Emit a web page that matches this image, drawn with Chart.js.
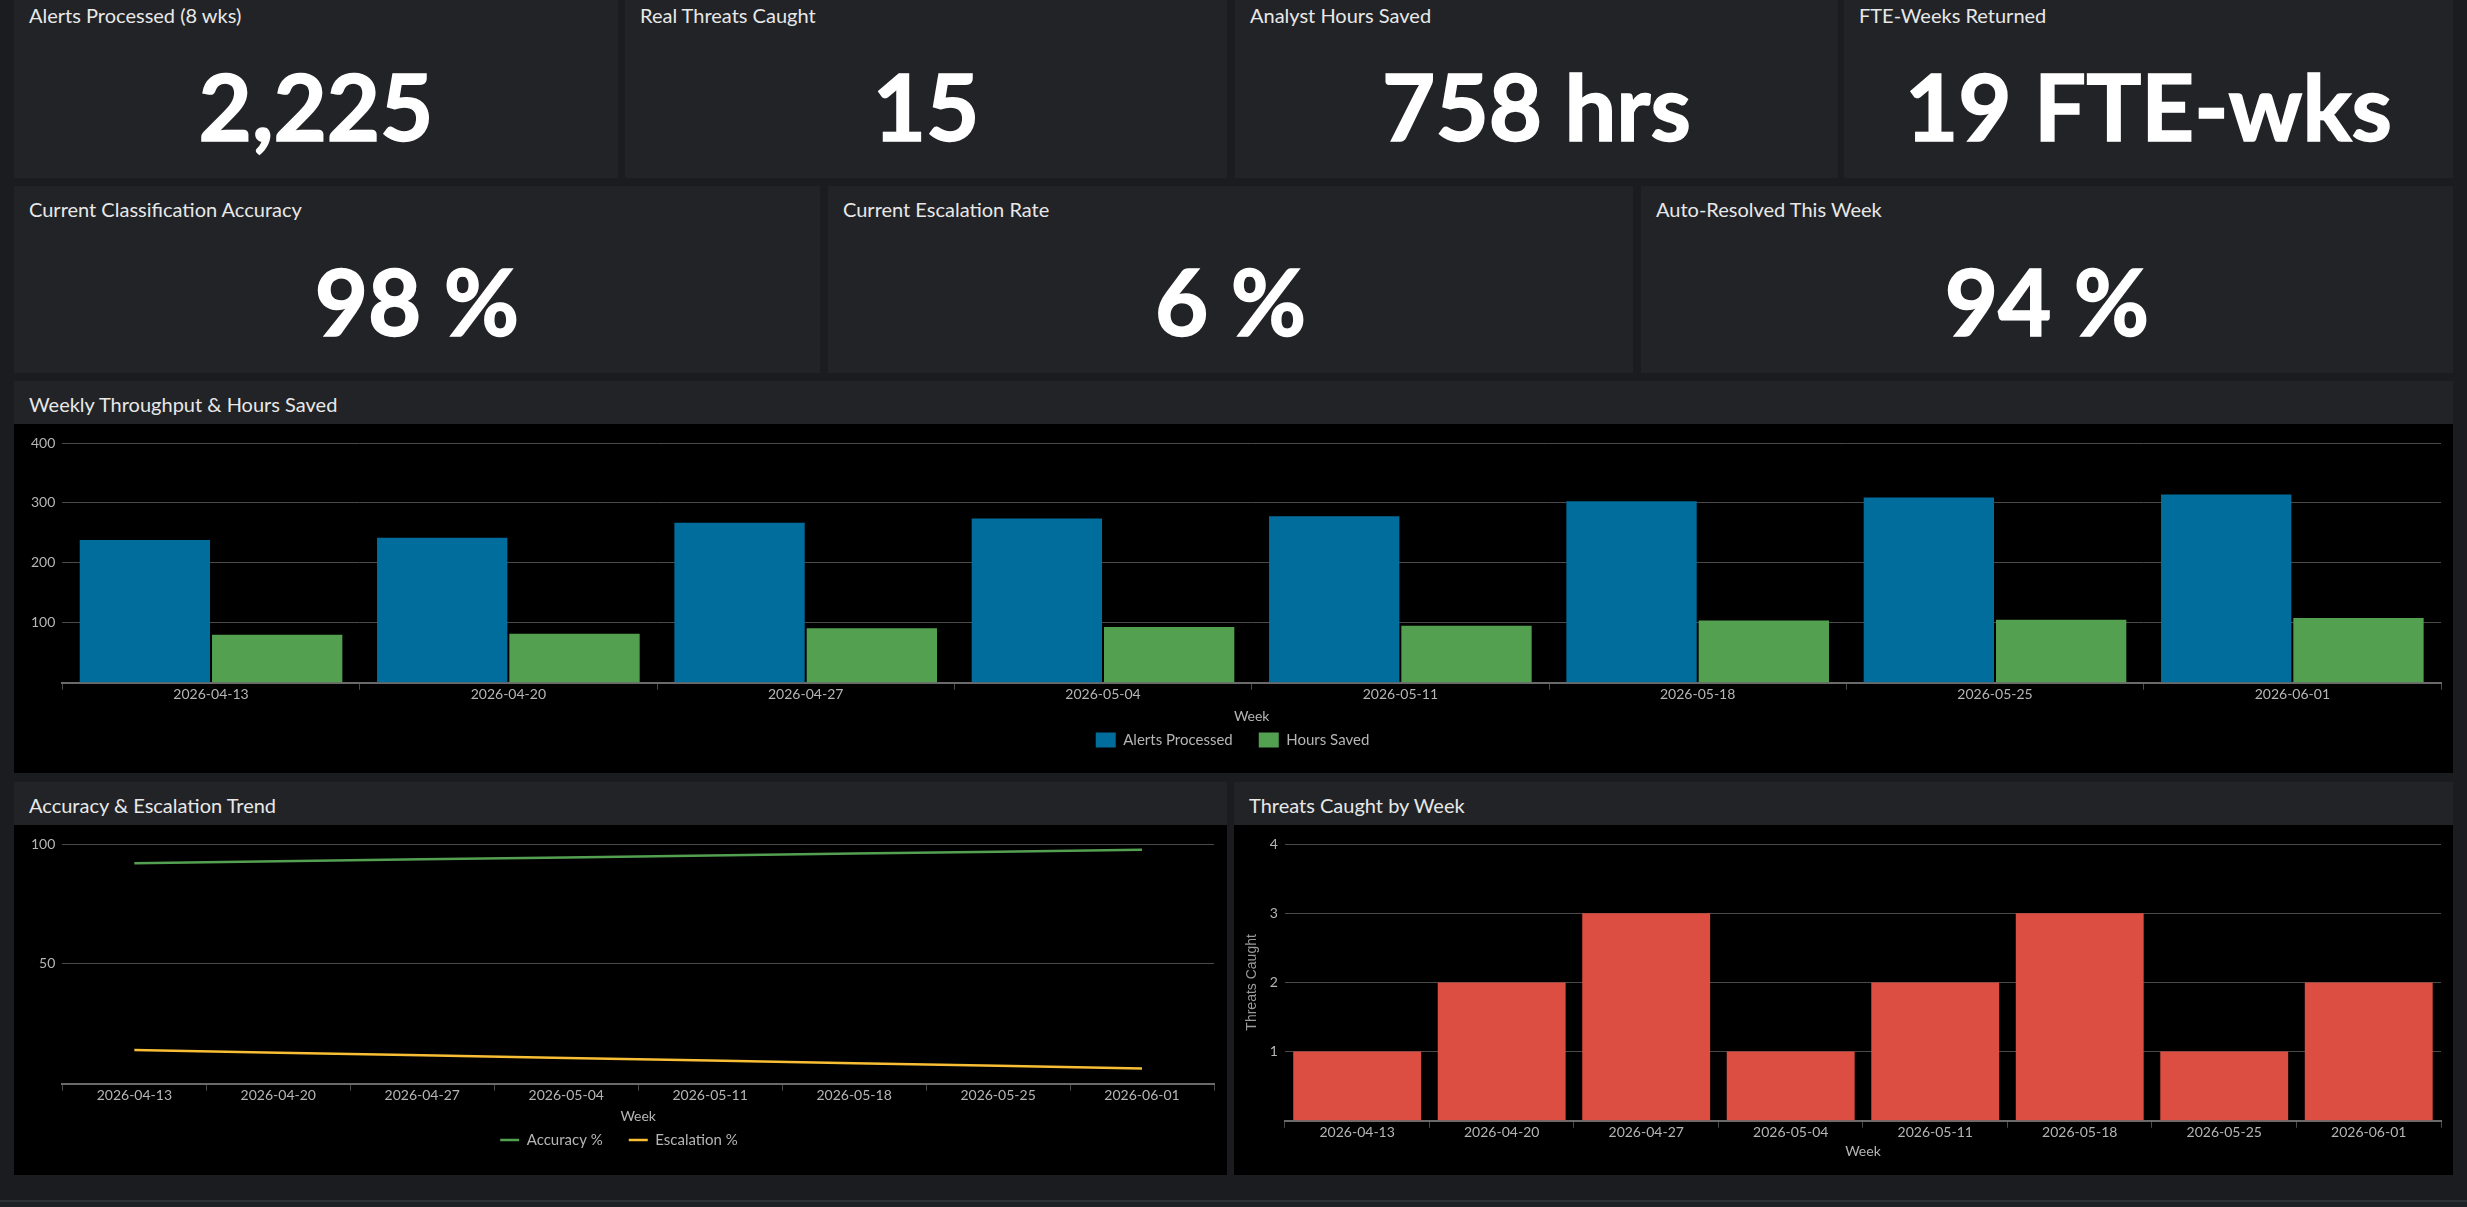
<!DOCTYPE html>
<html>
<head>
<meta charset="utf-8">
<title>SOC Automation Dashboard</title>
<script src="https://cdn.jsdelivr.net/npm/chart.js@4.4.0/dist/chart.umd.min.js"></script>
<style>
  html, body { margin: 0; padding: 0; }
  body {
    width: 2467px; height: 1207px; overflow: hidden; position: relative;
    background: #1a1c20; font-family: Lato, "Open Sans", sans-serif; color: #e6e6e6;
  }
  .tile { position: absolute; background: #212327; }
  .tile .ttl { position: absolute; left: 15px; top: 11px; font-size: 20px; color: #e8e8e8; }
  .tile .big {
    position: absolute; left: 0; right: 0; text-align: center;
    font-size: 92px; font-weight: 700; color: #ffffff; line-height: 1;
    -webkit-text-stroke: 1.5px #ffffff;
  }
  .panel { position: absolute; background: #212327; }
  .panel .ttl { position: absolute; left: 15px; top: 11px; font-size: 20px; color: #e8e8e8; }
  .panel .body { position: absolute; left: 0; right: 0; bottom: 0; background: #000; }
  .footer { position: absolute; left: 0; right: 0; top: 1200px; height: 7px; background: #1d2024; border-top: 2px solid #2e3136; }
</style>
</head>
<body>

<div class="tile" style="left:14px;top:-9px;width:604px;height:187px;">
  <div class="ttl" style="top:12px">Alerts Processed (8 wks)</div>
  <div class="big" style="top:69px" id="kpi1"></div>
</div>
<div class="tile" style="left:625px;top:-9px;width:602px;height:187px;">
  <div class="ttl" style="top:12px">Real Threats Caught</div>
  <div class="big" style="top:69px" id="kpi2"></div>
</div>
<div class="tile" style="left:1235px;top:-9px;width:603px;height:187px;">
  <div class="ttl" style="top:12px">Analyst Hours Saved</div>
  <div class="big" style="top:69px" id="kpi3"></div>
</div>
<div class="tile" style="left:1844px;top:-9px;width:609px;height:187px;">
  <div class="ttl" style="top:12px">FTE-Weeks Returned</div>
  <div class="big" style="top:69px" id="kpi4"></div>
</div>

<div class="tile" style="left:14px;top:186px;width:806px;height:187px;">
  <div class="ttl">Current Classification Accuracy</div>
  <div class="big" style="top:69px" id="kpi5"></div>
</div>
<div class="tile" style="left:828px;top:186px;width:805px;height:187px;">
  <div class="ttl">Current Escalation Rate</div>
  <div class="big" style="top:69px" id="kpi6"></div>
</div>
<div class="tile" style="left:1641px;top:186px;width:812px;height:187px;">
  <div class="ttl">Auto-Resolved This Week</div>
  <div class="big" style="top:69px" id="kpi7"></div>
</div>

<div class="panel" style="left:14px;top:381px;width:2439px;height:392px;">
  <div class="ttl">Weekly Throughput &amp; Hours Saved</div>
  <div class="body" style="top:43px;"><canvas id="throughput"></canvas></div>
</div>

<div class="panel" style="left:14px;top:782px;width:1213px;height:393px;">
  <div class="ttl">Accuracy &amp; Escalation Trend</div>
  <div class="body" style="top:43px;"><canvas id="trend"></canvas></div>
</div>

<div class="panel" style="left:1234px;top:782px;width:1219px;height:393px;">
  <div class="ttl">Threats Caught by Week</div>
  <div class="body" style="top:43px;"><canvas id="threats"></canvas></div>
</div>

<div class="footer"></div>

<script>
"use strict";
// weeks shown on every chart
let weeks = ["2026-04-13", "2026-04-20", "2026-04-27", "2026-05-04", "2026-05-11", "2026-05-18", "2026-05-25", "2026-06-01"];
let alertsProcessed = [238, 242, 267, 274, 278, 303, 309, 314];
let hoursSaved = [80, 82, 91, 93, 95, 104, 105, 108];
let accuracyPct = [92.0, 92.8, 93.6, 94.4, 95.2, 96.0, 96.8, 97.6];
let escalationPct = [14.1, 13.0, 11.9, 10.8, 9.7, 8.6, 7.5, 6.4];
let threatsCaught = [1, 2, 3, 1, 2, 3, 1, 2];
// single value tiles
let kpiValues = ["2,225", "15", "758 hrs", "19 FTE-wks", "98 %", "6 %", "94 %"];

for (let i = 0; i < kpiValues.length; i++) {
  document.getElementById("kpi" + (i + 1)).textContent = kpiValues[i];
}

const BLUE = "#006d9c";
const GREEN = "#53a051";
const RED = "#dc4e41";
const YELLOW = "#f8be34";
const GRID = "#4a4a4a";
const TXT = "#b5b5b5";

Chart.defaults.font.family = "Lato, 'Open Sans', sans-serif";
Chart.defaults.font.size = 14;
Chart.defaults.color = TXT;
Chart.defaults.animation = false;
Chart.defaults.maintainAspectRatio = false;
Chart.defaults.devicePixelRatio = 1;

// hide the 0 label like the original
function noZero(v) {
  return v === 0 ? "" : v;
}

// titleBottom is negative when a legend sits right under the axis title
function xAxis(titleTop, titleBottom) {
  return {
    offset: true,
    grid: { display: true, drawOnChartArea: false, drawTicks: true, tickLength: 7, color: GRID, offset: true },
    border: { display: true, color: "#6a6a6a", width: 2 },
    ticks: { padding: -4, maxRotation: 0, autoSkip: false },
    title: { display: true, text: "Week", padding: { top: titleTop, bottom: titleBottom } },
  };
}

function yAxis(max, step) {
  return {
    min: 0,
    max: max,
    grid: { color: GRID, drawTicks: false },
    border: { display: false },
    ticks: { stepSize: step, padding: 7, callback: noZero },
  };
}

new Chart(document.getElementById("throughput"), {
  type: "bar",
  data: {
    labels: weeks,
    datasets: [
      { label: "Alerts Processed", data: alertsProcessed, backgroundColor: BLUE, barPercentage: 0.985, categoryPercentage: 0.89 },
      { label: "Hours Saved", data: hoursSaved, backgroundColor: GREEN, barPercentage: 0.985, categoryPercentage: 0.89 },
    ],
  },
  options: {
    layout: { padding: { top: 19, left: 10, right: 12, bottom: 15.5 } },
    plugins: {
      tooltip: { enabled: false },
      legend: {
        position: "bottom",
        labels: { boxWidth: 20, boxHeight: 15, padding: 26, color: TXT, font: { size: 15 } },
      },
    },
    scales: { x: xAxis(9, -17.9), y: yAxis(400, 100) },
  },
});

new Chart(document.getElementById("trend"), {
  type: "line",
  data: {
    labels: weeks,
    datasets: [
      { label: "Accuracy %", data: accuracyPct, borderColor: GREEN, backgroundColor: GREEN, borderWidth: 2.5, pointRadius: 0, tension: 0 },
      { label: "Escalation %", data: escalationPct, borderColor: YELLOW, backgroundColor: YELLOW, borderWidth: 2.5, pointRadius: 0, tension: 0 },
    ],
  },
  options: {
    layout: { padding: { top: 19, left: 10, right: 13, bottom: 17.5 } },
    plugins: {
      tooltip: { enabled: false },
      legend: {
        position: "bottom",
        labels: { usePointStyle: true, pointStyle: "line", pointStyleWidth: 19, padding: 26, color: TXT, font: { size: 15 } },
      },
    },
    scales: { x: xAxis(8, -17.9), y: yAxis(100, 50) },
  },
});

let threatY = yAxis(4, 1);
threatY.title = {
  display: true,
  text: "Threats Caught",
  font: { family: "'Liberation Sans', Arial, sans-serif", size: 14 },
  color: "#9a9a9a",
  padding: { top: 0, bottom: 2 },
};

new Chart(document.getElementById("threats"), {
  type: "bar",
  data: {
    labels: weeks,
    datasets: [
      { label: "Threats Caught", data: threatsCaught, backgroundColor: RED, barPercentage: 0.885, categoryPercentage: 1 },
    ],
  },
  options: {
    layout: { padding: { top: 19, left: 10, right: 12, bottom: 15.6 } },
    plugins: { tooltip: { enabled: false }, legend: { display: false } },
    scales: { x: xAxis(6, 0), y: threatY },
  },
});
</script>
</body>
</html>
